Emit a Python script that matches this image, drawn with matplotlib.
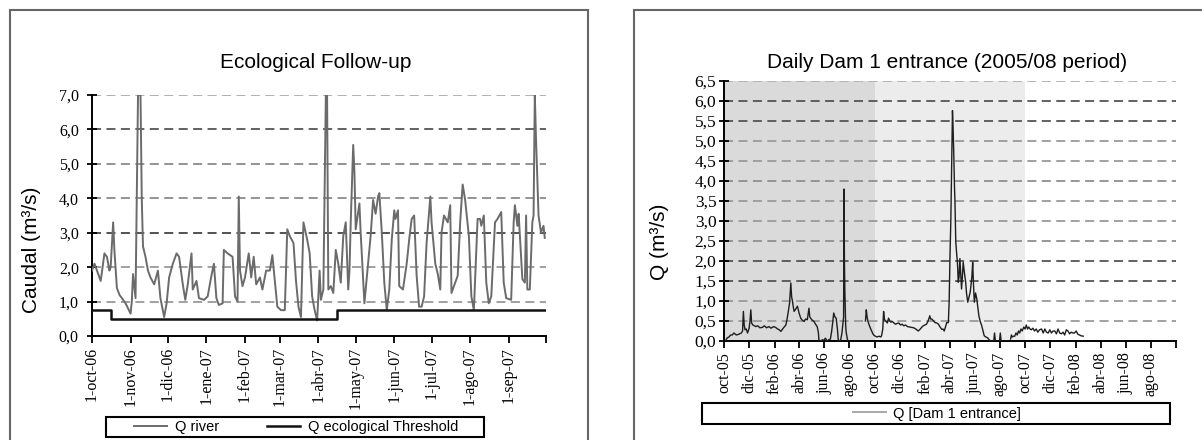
import numpy as np
import matplotlib
matplotlib.use('Agg')
import matplotlib.pyplot as plt
from matplotlib.patches import Rectangle

################################################################################
# data

# left panel: daily river flow, days counted from 1-oct-06
river_days = [0, 2, 4, 7, 10, 12, 14, 15, 17, 18, 20, 22, 24, 27, 31, 32, 33, 35,
              36, 37, 39, 40, 41, 43, 45, 47, 50, 53, 55, 58, 60, 62, 65, 68, 70,
              73, 75, 77, 80, 81, 84, 86, 90, 93, 96, 98, 100, 102, 105, 106, 109,
              113, 115, 117, 118, 119, 121, 123, 126, 128, 130, 132, 135, 137, 140,
              143, 145, 147, 149, 152, 155, 157, 159, 162, 164, 166, 168, 170, 173,
              175, 177, 179, 181, 183, 184, 186, 188, 189, 190, 192, 194, 196, 198,
              200, 202, 204, 206, 207, 208, 210, 211, 212, 215, 216, 219, 222, 224,
              226, 228, 230, 231, 233, 235, 237, 239, 241, 243, 244, 246, 247, 250,
              253, 255, 257, 259, 261, 263, 265, 267, 269, 272, 273, 276, 278, 280,
              281, 283, 286, 288, 289, 292, 294, 296, 298, 300, 303, 305, 307, 310,
              312, 313, 315, 317, 319, 321, 324, 326, 329, 331, 333, 337, 339, 340,
              342, 343, 346, 348, 349, 350, 352, 354, 355, 356, 357, 359, 361, 363,
              364]
river_q = [1.9, 2.1, 1.9, 1.6, 2.4, 2.3, 1.9, 2.0, 3.3, 2.5, 1.4, 1.2, 1.1, 0.95,
           0.65, 1.0, 1.8, 1.1, 4.0, 7.0, 7.0, 4.0, 2.6, 2.3, 1.9, 1.7, 1.5, 1.9,
           1.1, 0.55, 0.95, 1.7, 2.1, 2.4, 2.3, 1.5, 1.05, 1.5, 2.4, 1.35, 1.6,
           1.1, 1.05, 1.15, 1.75, 2.1, 1.1, 0.9, 0.95, 2.5, 2.4, 2.3, 1.15, 1.0,
           4.05, 1.9, 1.45, 1.7, 2.4, 1.7, 2.3, 1.5, 1.7, 1.35, 1.9, 1.9, 2.35,
           1.6, 0.85, 0.75, 0.75, 3.1, 2.9, 2.7, 1.6, 0.85, 0.55, 3.3, 2.8, 2.4,
           1.15, 0.75, 0.45, 1.9, 1.05, 1.35, 7.0, 7.0, 1.35, 1.45, 1.25, 2.5,
           2.1, 1.55, 2.9, 3.3, 1.35, 1.9, 3.3, 5.55, 4.75, 3.1, 3.85, 3.0, 0.95,
           2.1, 2.9, 3.95, 3.55, 4.05, 4.15, 3.0, 1.55, 0.75, 1.35, 2.8, 3.65,
           3.4, 3.65, 1.45, 1.35, 2.1, 2.8, 3.4, 3.5, 1.75, 0.85, 0.85, 1.15, 2.7,
           4.05, 3.3, 2.1, 1.8, 1.35, 3.0, 3.5, 3.3, 3.8, 1.25, 1.55, 1.75, 3.3,
           4.4, 3.95, 2.9, 1.15, 0.75, 3.4, 3.4, 3.2, 3.5, 1.55, 0.95, 1.15, 3.3,
           3.4, 3.6, 1.55, 1.1, 1.05, 3.3, 3.8, 3.2, 3.55, 1.65, 1.55, 3.5, 1.35,
           1.35, 3.3, 3.5, 7.0, 5.7, 3.5, 3.0, 3.2, 2.85]

# ecological threshold (step)
thr_days = [0, 15, 197, 365]
thr_q = [0.75, 0.5, 0.75, 0.75]

left_ticks = ['1-oct-06', '1-nov-06', '1-dic-06', '1-ene-07', '1-feb-07', '1-mar-07',
              '1-abr-07', '1-may-07', '1-jun-07', '1-jul-07', '1-ago-07', '1-sep-07', '']
left_yticks = [0, 1, 2, 3, 4, 5, 6, 7]
left_ylabels = ['0,0', '1,0', '2,0', '3,0', '4,0', '5,0', '6,0', '7,0']

# right panel: dam entrance, days counted from 1-oct-05 (nan = no record)
nan = np.nan
dam_days = [3, 8, 12, 16, 20, 24, 30, 36, 42, 45, 47, 49, 51, 54, 57, 61, 63, 65, 67,
            70, 74, 77, 82, 87, 93, 98, 103, 109, 114, 120, 125, 130, 134, 138, 142,
            146, 150, 153, 156, 159, 162, 164, 166, 168, 170, 174, 178, 182, 186,
            190, 194, 198, 202, 206, 208, 210, 214, 218, 222, 226, 229, 230, 234,
            238, 242, 246, 250, 254, 258, 261, 264, 266, 269, 272, 275, 277, 280,
            283, 286, 288, 290, 291, 292, 293, 295, 296, 299, 301, 302,
            343, 345, 347, 349, 352, 355, 358, 361, 363, 367, 371, 376, 380, 382,
            385, 387, 389, 391, 393, 396, 399, 402, 405, 408, 412, 416, 420, 424,
            428, 432, 436, 440, 445, 450, 455, 460, 465, 471, 476, 480, 483, 487,
            491, 495, 499, 501, 504, 508, 512, 516, 520, 524, 528, 531, 534, 537,
            540, 544, 546, 548, 550, 552, 554, 555, 557, 559, 560, 562, 564, 566,
            568, 570, 572, 574, 576, 578, 580, 583, 586, 588, 591, 594, 597, 599,
            601, 603, 605, 607, 610, 613, 616, 618, 621, 625, 628, 631, 635, 639,
            643, 647, 650, 652, 654, 656, 658, 660, 668, 670, 672, 674, 682, 686,
            688, 695, 697, 699, 702, 705, 708, 711, 714, 717, 720, 723, 727, 730,
            733, 736, 739, 742, 745, 749, 753, 757, 761, 765, 770, 774, 778, 782,
            786, 790, 794, 798, 802, 806, 810, 814, 818, 822, 826, 830, 834, 838,
            842, 846, 850, 854, 858, 862, 866, 871]
dam_q = [0.0, 0.08, 0.1, 0.15, 0.15, 0.2, 0.15, 0.17, 0.2, 0.25, 0.74, 0.4, 0.28, 0.3,
         0.2, 0.32, 0.5, 0.78, 0.45, 0.4, 0.38, 0.36, 0.38, 0.33, 0.34, 0.38, 0.33,
         0.36, 0.32, 0.36, 0.34, 0.3, 0.28, 0.24, 0.3, 0.35, 0.4, 0.55, 0.74, 0.95,
         1.45, 1.1, 1.0, 0.85, 0.74, 0.8, 0.87, 0.7, 0.57, 0.52, 0.49, 0.55, 0.53,
         0.82, 0.6, 0.57, 0.52, 0.49, 0.42, 0.36, 0.2, 0.03, 0.0, 0.03, 0.02, 0.07,
         0.0, 0.03, 0.05, 0.24, 0.5, 0.7, 0.6, 0.57, 0.3, 0.03, 0.0, 0.03, 0.2,
         0.4, 0.6, 3.8, 2.0, 1.3, 0.4, 0.24, 0.05, 0.0, nan,
         0.5, 0.78, 0.6, 0.49, 0.4, 0.32, 0.25, 0.18, 0.15, 0.12, 0.1, 0.12, 0.1,
         0.13, 0.3, 0.74, 0.55, 0.5, 0.49, 0.45, 0.57, 0.5, 0.47, 0.49, 0.45, 0.42,
         0.44, 0.45, 0.4, 0.42, 0.38, 0.4, 0.36, 0.35, 0.34, 0.33, 0.3, 0.25, 0.3,
         0.35, 0.38, 0.4, 0.42, 0.5, 0.63, 0.55, 0.55, 0.5, 0.46, 0.45, 0.42, 0.35,
         0.29, 0.3, 0.25, 0.35, 0.46, 0.46, 1.0, 2.14, 3.0, 4.33, 5.76, 5.5, 4.75,
         3.8, 3.5, 2.48, 2.2, 1.97, 1.47, 1.6, 2.06, 1.7, 1.3, 1.6, 1.97, 1.7,
         1.47, 1.2, 0.97, 1.1, 1.22, 1.4, 1.6, 1.97, 1.4, 0.97, 1.2, 1.05, 0.8,
         0.63, 0.5, 0.38, 0.25, 0.13, 0.1, 0.08, 0.03, 0.0, 0.0, nan, 0.0, 0.2,
         0.0, nan, 0.0, 0.2, 0.0, nan, 0.0, 0.0, nan, 0.05, 0.15, 0.1, 0.12, 0.12,
         0.2, 0.15, 0.25, 0.2, 0.3, 0.25, 0.35, 0.3, 0.4, 0.3, 0.35, 0.3, 0.28,
         0.32, 0.25, 0.3, 0.22, 0.28, 0.3, 0.2, 0.3, 0.22, 0.2, 0.28, 0.2, 0.25,
         0.25, 0.18, 0.3, 0.2, 0.18, 0.22, 0.15, 0.28, 0.25, 0.18, 0.22, 0.2, 0.2,
         0.25, 0.17, 0.15, 0.13, 0.12]

right_ticks = ['oct-05', 'dic-05', 'feb-06', 'abr-06', 'jun-06', 'ago-06', 'oct-06',
               'dic-06', 'feb-07', 'abr-07', 'jun-07', 'ago-07', 'oct-07', 'dic-07',
               'feb-08', 'abr-08', 'jun-08', 'ago-08', '']
right_yticks = [0, 0.5, 1, 1.5, 2, 2.5, 3, 3.5, 4, 4.5, 5, 5.5, 6, 6.5]
right_ylabels = ['0,0', '0,5', '1,0', '1,5', '2,0', '2,5', '3,0', '3,5', '4,0',
                 '4,5', '5,0', '5,5', '6,0', '6,5']

################################################################################
# styling

W, H = 1202, 440
SANS = ['Liberation Sans', 'DejaVu Sans']
SERIF = ['Liberation Serif', 'DejaVu Serif']
DASH = (0, (5, 3))
left_gridcols = ['#9a9a9a', '#9a9a9a', '#444444', '#8a8a8a', '#8a8a8a', '#555555', '#aaaaaa']
right_gridcols = ['#9a9a9a', '#9a9a9a', '#555555', '#555555', '#8f8f8f', '#9a9a9a',
                  '#9a9a9a', '#8f8f8f', '#9a9a9a', '#9a9a9a', '#555555', '#555555', '#b0b0b0']


def fx(px):
    return px / W


def fy(py):
    return 1 - py / H


def style_axes(ax, pad, ysize):
    for s in ['top', 'right']:
        ax.spines[s].set_visible(False)
    for s in ['left', 'bottom']:
        ax.spines[s].set_linewidth(1.4)
        ax.spines[s].set_color('black')
    ax.tick_params(axis='y', direction='inout', length=7, width=1.3, pad=pad, labelsize=ysize)
    ax.tick_params(axis='x', direction='out', length=5, width=1.3, pad=3, labelsize=11.5,
                   labelrotation=90)
    for lab in ax.get_xticklabels() + ax.get_yticklabels():
        lab.set_family(SERIF)


fig = plt.figure(figsize=(W / 100, H / 100), dpi=100)

# outer frames of the two panels
fig.add_artist(Rectangle((fx(10), fy(480)), fx(588 - 10), (480 - 10) / H,
                         transform=fig.transFigure, fill=False, ec='#666666', lw=1.5))
fig.add_artist(Rectangle((fx(634), fy(480)), fx(700), (480 - 10) / H,
                         transform=fig.transFigure, fill=False, ec='#666666', lw=1.5))

################################################################################
# left: Ecological Follow-up
ax1 = fig.add_axes([fx(92), fy(336), fx(546 - 92), (336 - 95) / H])
start1 = np.datetime64('2006-10-01')
x_river = start1 + np.array(river_days).astype('timedelta64[D]')
x_thr = start1 + np.array(thr_days).astype('timedelta64[D]')

for val, col in zip(left_yticks[1:], left_gridcols):
    ax1.axhline(val, color=col, lw=1.3, ls=DASH, zorder=1)
l1, = ax1.plot(x_river, river_q, color='#6b6b6b', lw=1.4, zorder=3, label='Q river')
l2, = ax1.plot(x_thr, thr_q, color='#111111', lw=1.8, drawstyle='steps-post', zorder=4,
               label='Q ecological Threshold')

ax1.set_xlim(start1, np.datetime64('2007-10-01'))
ax1.set_ylim(0, 7)
months1 = np.arange('2006-10', '2007-11', dtype='datetime64[M]').astype('datetime64[D]')
ax1.set_xticks(months1)
ax1.set_xticklabels(left_ticks)
ax1.set_yticks(left_yticks)
ax1.set_yticklabels(left_ylabels)
style_axes(ax1, 6, 11.5)
ax1.set_ylabel('Caudal (m³/s)', family=SANS, fontsize=15)
ax1.yaxis.set_label_coords(-0.112, 0.357)

fig.text(fx(316), fy(62), 'Ecological Follow-up', family=SANS, fontsize=15,
         ha='center', va='center')

fig.add_artist(Rectangle((fx(106), fy(437)), fx(484 - 106), (437 - 417) / H,
                         transform=fig.transFigure, fill=False, ec='black', lw=1.5))
ax1.legend(handles=[l1, l2], loc='center', bbox_to_anchor=(fx(296), fy(427)),
           bbox_transform=fig.transFigure, ncol=2, frameon=False,
           prop={'family': SANS, 'size': 10.5}, handlelength=2.3, handletextpad=0.5,
           columnspacing=3.3, borderpad=0)

################################################################################
# right: Daily Dam 1 entrance
ax2 = fig.add_axes([fx(724), fy(341), fx(1176 - 724), (341 - 81) / H])
start2 = np.datetime64('2005-10-01')
x_dam = start2 + np.array(dam_days).astype('timedelta64[D]')

ax2.axvspan(start2, np.datetime64('2006-10-01'), color='#dadada', lw=0, zorder=0)
ax2.axvspan(np.datetime64('2006-10-01'), np.datetime64('2007-10-01'), color='#ececec',
            lw=0, zorder=0)
for val, col in zip(right_yticks[1:], right_gridcols):
    ax2.axhline(val, color=col, lw=1.3, ls=DASH, zorder=1)
l3, = ax2.plot(x_dam, dam_q, color='#1e1e1e', lw=1.0, zorder=3, label='Q [Dam 1 entrance]')

ax2.set_xlim(start2, np.datetime64('2008-10-01'))
ax2.set_ylim(0, 6.5)
months2 = np.arange('2005-10', '2008-11', 2, dtype='datetime64[M]').astype('datetime64[D]')
ax2.set_xticks(months2)
ax2.set_xticklabels(right_ticks)
ax2.set_yticks(right_yticks)
ax2.set_yticklabels(right_ylabels)
style_axes(ax2, 2, 12.5)
ax2.set_ylabel('Q (m³/s)', family=SANS, fontsize=15)
ax2.yaxis.set_label_coords(-0.122, 0.381)

fig.text(fx(947), fy(62), 'Daily Dam 1 entrance (2005/08 period)', family=SANS,
         fontsize=15, ha='center', va='center')

fig.add_artist(Rectangle((fx(702), fy(424)), fx(1170 - 702), (424 - 403) / H,
                         transform=fig.transFigure, fill=False, ec='black', lw=1.5))
leg2 = ax2.legend(handles=[l3], loc='center', bbox_to_anchor=(fx(937), fy(413.5)),
                  bbox_transform=fig.transFigure, frameon=False,
                  prop={'family': SANS, 'size': 10.5}, handlelength=2.3,
                  handletextpad=0.5, borderpad=0)
leg2.legend_handles[0].set_color('#a8a8a8')
leg2.legend_handles[0].set_linewidth(1.4)

fig.savefig('out.png', dpi=100)
